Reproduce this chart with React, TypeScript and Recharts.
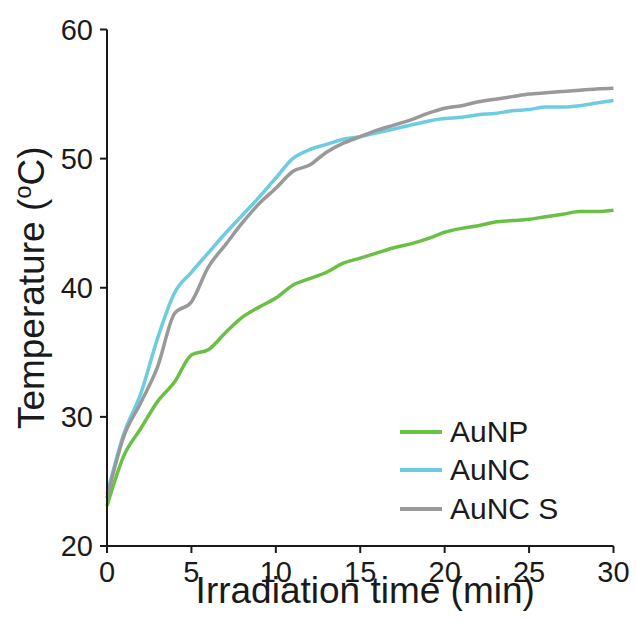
import React from "react";
import { LineChart, Line, XAxis, YAxis, Legend } from "recharts";

const times = [0,1,2,3,4,5,6,7,8,9,10,11,12,13,14,15,16,17,18,19,20,21,22,23,24,25,26,27,28,29,30];
const auNP = [23.1,27.0,29.1,31.2,32.7,34.8,35.2,36.5,37.7,38.5,39.2,40.2,40.7,41.2,41.9,42.3,42.7,43.1,43.4,43.8,44.3,44.6,44.8,45.1,45.2,45.3,45.5,45.7,45.9,45.9,46.0];
const auNC = [24.0,28.7,31.8,36.1,39.6,41.2,42.7,44.2,45.6,47.0,48.5,50.0,50.7,51.1,51.5,51.7,52.0,52.3,52.6,52.9,53.1,53.2,53.4,53.5,53.7,53.8,54.0,54.0,54.1,54.3,54.5];
const auNCS = [23.7,28.5,31.1,33.9,38.0,38.9,41.6,43.3,45.0,46.5,47.7,49.0,49.5,50.5,51.2,51.7,52.2,52.6,53.0,53.5,53.9,54.1,54.4,54.6,54.8,55.0,55.1,55.2,55.3,55.4,55.45];
const xTicks = [0,5,10,15,20,25,30];
const yTicks = [20,30,40,50,60];

const seriesNames = ["AuNP", "AuNC", "AuNC S"];
const seriesKeys = ["np", "nc", "ncs"];
const seriesColors = ["#6abf45", "#6dcde0", "#999999"];

const data = times.map((t, i) => ({ t, np: auNP[i], nc: auNC[i], ncs: auNCS[i] }));

const FONT = "'Liberation Sans', Arial, Helvetica, sans-serif";
const TXT = "#1a1a1a";

const LegendBox = () => (
  <div style={{ fontFamily: FONT, fontSize: 30, color: TXT }}>
    {seriesNames.map((n, i) => (
      <div key={n} style={{ display: "flex", alignItems: "center", height: 38.7, whiteSpace: "nowrap" }}>
        <div style={{ width: 42, height: 4, background: seriesColors[i], marginRight: 8 }} />
        <span>{n}</span>
      </div>
    ))}
  </div>
);

const XLabel = (props: any) => {
  const vb = props.viewBox || {};
  return (
    <text x={vb.x + vb.width / 2 + 5} y={vb.y + 56.5} textAnchor="middle" fontFamily={FONT} fontSize={37} fill={TXT}>
      Irradiation time (min)
    </text>
  );
};

const YLabel = (props: any) => {
  const vb = props.viewBox || {};
  const cx = 43.5;
  const cy = vb.y + vb.height / 2;
  return (
    <text x={cx} y={cy} transform={`rotate(-90, ${cx}, ${cy})`} textAnchor="middle" fontFamily={FONT} fontSize={37} fill={TXT}>
      Temperature (<tspan fontSize={24} dy={-13}>o</tspan><tspan dy={13}>C)</tspan>
    </text>
  );
};

export default function App() {
  return (
    <div style={{ position: "absolute", left: 0, top: 0, width: 636, height: 628, background: "#fff" }}>
      <LineChart width={636} height={628} data={data} margin={{ top: 29.5, right: 22.5, left: 47, bottom: 22 }}>
        <XAxis
          dataKey="t"
          type="number"
          domain={[0, 30]}
          ticks={xTicks}
          tickSize={7}
          tickMargin={8}
          height={60}
          stroke={TXT}
          strokeWidth={2}
          tick={{ fontSize: 29, fontFamily: FONT, fill: TXT }}
          tickLine={{ stroke: TXT, strokeWidth: 2 }}
          label={<XLabel />}
        />
        <YAxis
          type="number"
          domain={[20, 60]}
          ticks={yTicks}
          tickSize={7}
          tickMargin={7}
          width={60}
          stroke={TXT}
          strokeWidth={2}
          tick={{ fontSize: 29, fontFamily: FONT, fill: TXT }}
          tickLine={{ stroke: TXT, strokeWidth: 2 }}
          label={<YLabel />}
        />
        {seriesKeys.map((k, i) => (
          <Line
            key={k}
            dataKey={k}
            name={seriesNames[i]}
            type="monotone"
            stroke={seriesColors[i]}
            strokeWidth={3.5}
            dot={false}
            isAnimationActive={false}
          />
        ))}
        <Legend
          layout="vertical"
          align="center"
          verticalAlign="middle"
          content={<LegendBox />}
          wrapperStyle={{ position: "absolute", left: 400, top: 412.3, width: 200 }}
        />
      </LineChart>
    </div>
  );
}
